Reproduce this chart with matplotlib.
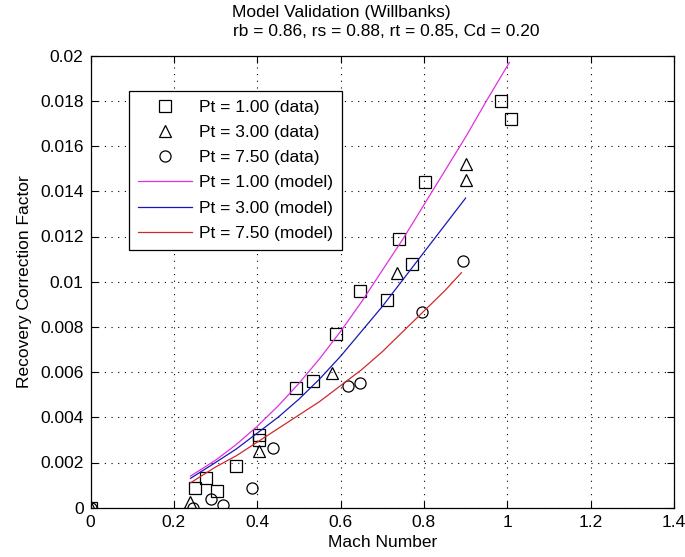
import matplotlib
matplotlib.use("Agg")
import matplotlib.pyplot as plt
from matplotlib.ticker import FixedLocator, FuncFormatter

plt.rcParams['font.family'] = ['Liberation Sans', 'DejaVu Sans']

# ---- data ----
sq_x = [0.0, 0.251, 0.277, 0.303, 0.348, 0.404, 0.404, 0.493, 0.534, 0.589, 0.646, 0.711, 0.740, 0.771, 0.802, 0.985, 1.009]
sq_y = [0.0, 0.00087, 0.0013, 0.00074, 0.00185, 0.0030, 0.0032, 0.0053, 0.0056, 0.0077, 0.0096, 0.0092, 0.0119, 0.0108, 0.0144, 0.0180, 0.0172]

tri_x = [0.0, 0.239, 0.404, 0.579, 0.735, 0.901, 0.901]
tri_y = [0.0, 0.00025, 0.0025, 0.00595, 0.0104, 0.0152, 0.0145]

circ_x = [0.0, 0.246, 0.289, 0.318, 0.388, 0.438, 0.618, 0.647, 0.795, 0.893]
circ_y = [0.0, 0.0, 0.0004, 0.00012, 0.00087, 0.00265, 0.0054, 0.0055, 0.00865, 0.0109]

m1_x = [0.24, 0.30, 0.35, 0.40, 0.45, 0.50, 0.55, 0.60, 0.65, 0.70, 0.75, 0.80, 0.85, 0.90, 0.95, 1.005]
m1_y = [0.0014, 0.0021, 0.0028, 0.0036, 0.0045, 0.0055, 0.0066, 0.0078, 0.0091, 0.0105, 0.0119, 0.0134, 0.0149, 0.0164, 0.0180, 0.0197]

m3_x = [0.24, 0.30, 0.35, 0.40, 0.45, 0.50, 0.55, 0.60, 0.65, 0.70, 0.75, 0.80, 0.85, 0.90]
m3_y = [0.0013, 0.0020, 0.0026, 0.0033, 0.0040, 0.0048, 0.0057, 0.0067, 0.0078, 0.0089, 0.0101, 0.0113, 0.0125, 0.0137]

m7_x = [0.24, 0.30, 0.35, 0.40, 0.45, 0.50, 0.55, 0.60, 0.65, 0.70, 0.75, 0.80, 0.85, 0.89]
m7_y = [0.0011, 0.0018, 0.0023, 0.0029, 0.0035, 0.0041, 0.0047, 0.0054, 0.0061, 0.0069, 0.0078, 0.0087, 0.0096, 0.0104]

labels = ['Pt = 1.00 (data)', 'Pt = 3.00 (data)', 'Pt = 7.50 (data)',
          'Pt = 1.00 (model)', 'Pt = 3.00 (model)', 'Pt = 7.50 (model)']
xticks = [0, 0.2, 0.4, 0.6, 0.8, 1.0, 1.2, 1.4]
yticks = [0, 0.002, 0.004, 0.006, 0.008, 0.01, 0.012, 0.014, 0.016, 0.018, 0.02]

FS = 12.5

fig = plt.figure(figsize=(6.85, 5.57), dpi=100)
ax = fig.add_axes([90.5/685, 1-507.7/557, (674-90.5)/685, (507.7-55.7)/557])

mk = dict(linestyle='none', markerfacecolor='none', markeredgecolor='black', markeredgewidth=0.9)
ax.plot(sq_x, sq_y, marker='s', markersize=8.5, label=labels[0], **mk)
ax.plot(tri_x, tri_y, marker='^', markersize=8.5, label=labels[1], **mk)
ax.plot(circ_x, circ_y, marker='o', markersize=8, label=labels[2], **mk)
ax.plot(m1_x, m1_y, color='#e030e0', lw=0.9, label=labels[3])
ax.plot(m3_x, m3_y, color='#1818b8', lw=0.9, label=labels[4])
ax.plot(m7_x, m7_y, color='#d02a2a', lw=0.9, label=labels[5])

ax.set_xlim(0, 1.4)
ax.set_ylim(0, 0.02)
ax.xaxis.set_major_locator(FixedLocator(xticks))
ax.yaxis.set_major_locator(FixedLocator(yticks))
fmt = FuncFormatter(lambda v, p: ('%.3f' % v).rstrip('0').rstrip('.') if v != 0 else '0')
ax.yaxis.set_major_formatter(fmt)
ax.xaxis.set_major_formatter(FuncFormatter(lambda v, p: ('%.1f' % v).rstrip('0').rstrip('.') if v != 0 else '0'))
ax.tick_params(direction='in', length=5, width=0.8, top=True, right=True, labelsize=FS, pad=5, colors='black')
ax.grid(True, color='black', linestyle=(0, (1, 5)), linewidth=0.8)
for s in ax.spines.values():
    s.set_linewidth(0.9)
    s.set_color('black')

ax.set_xlabel('Mach Number', fontsize=FS, labelpad=4)
ax.set_ylabel('Recovery Correction Factor', fontsize=FS, labelpad=6)

fig.text(341/685, 1-12/557, 'Model Validation (Willbanks)', ha='center', va='center', fontsize=FS)
fig.text(386/685, 1-32/557, 'rb = 0.86, rs = 0.88, rt = 0.85, Cd = 0.20', ha='center', va='center', fontsize=FS)

leg = ax.legend(loc='upper left', bbox_to_anchor=((129-90.5)/583.5, (507.7-91)/452), borderaxespad=0,
                fontsize=FS, frameon=True, fancybox=False, framealpha=1, edgecolor='black',
                handlelength=3.1, handletextpad=0.45, labelspacing=0.58, borderpad=0.5)
leg.get_frame().set_linewidth(0.9)

fig.savefig('out.png', dpi=100, facecolor='white')
